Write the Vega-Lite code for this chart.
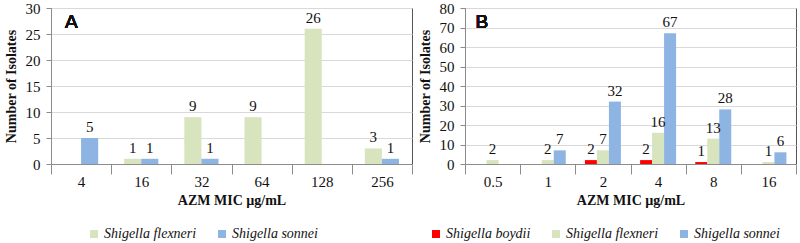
{
  "$schema": "https://vega.github.io/schema/vega-lite/v6.json",
  "padding": {"left": 3, "top": 0, "right": 0, "bottom": 0},
  "background": "white",
  "spacing": 4,
  "config": {
    "font": "Liberation Serif, Times New Roman, serif",
    "view": {"stroke": "#555", "strokeWidth": 1},
    "text": {"font": "Liberation Serif, Times New Roman, serif"},
    "axis": {
      "labelFont": "Liberation Serif, Times New Roman, serif",
      "labelFontSize": 15,
      "labelColor": "#111",
      "titleFont": "Liberation Serif, Times New Roman, serif",
      "titleFontSize": 14,
      "titleFontWeight": "bold",
      "titleColor": "#111",
      "domainColor": "#8c8c8c",
      "tickColor": "#8c8c8c",
      "gridColor": "#d9d9d9"
    },
    "legend": {
      "labelFont": "Liberation Serif, Times New Roman, serif",
      "labelFontSize": 14,
      "labelFontStyle": "italic",
      "labelColor": "#111",
      "symbolType": "square",
      "symbolSize": 64,
      "symbolStrokeWidth": 0,
      "labelOffset": 3,
      "columnPadding": 18,
      "direction": "horizontal",
      "orient": "none"
    }
  },
  "resolve": {"scale": {"color": "independent", "y": "independent", "x": "independent", "xOffset": "independent"}},
  "hconcat": [
    {
      "width": 361,
      "height": 156,
      "data": {"values": [
        {"mic": "4", "species": "Shigella flexneri", "count": 0},
        {"mic": "4", "species": "Shigella sonnei", "count": 5},
        {"mic": "16", "species": "Shigella flexneri", "count": 1},
        {"mic": "16", "species": "Shigella sonnei", "count": 1},
        {"mic": "32", "species": "Shigella flexneri", "count": 9},
        {"mic": "32", "species": "Shigella sonnei", "count": 1},
        {"mic": "64", "species": "Shigella flexneri", "count": 9},
        {"mic": "64", "species": "Shigella sonnei", "count": 0},
        {"mic": "128", "species": "Shigella flexneri", "count": 26},
        {"mic": "128", "species": "Shigella sonnei", "count": 0},
        {"mic": "256", "species": "Shigella flexneri", "count": 3},
        {"mic": "256", "species": "Shigella sonnei", "count": 1}
      ]},
      "layer": [
        {
          "mark": {"type": "bar"},
          "encoding": {
            "x": {"field": "mic", "type": "ordinal",
                  "scale": {"domain": ["4", "16", "32", "64", "128", "256"], "paddingInner": 0, "paddingOuter": 0},
                  "axis": {"title": "AZM MIC µg/mL", "labelAngle": 0, "tickBand": "extent", "tickSize": 10, "labelPadding": 0, "titlePadding": 4}},
            "xOffset": {"field": "species", "type": "nominal", "scale": {"paddingInner": 0, "paddingOuter": 0.76}},
            "y": {"field": "count", "type": "quantitative",
                  "scale": {"domain": [0, 30], "nice": false},
                  "axis": {"title": "Number of Isolates", "values": [0, 5, 10, 15, 20, 25, 30], "labelOverlap": false, "grid": true, "tickSize": 5, "labelPadding": 6, "titlePadding": 7}},
            "color": {"field": "species", "type": "nominal",
                      "scale": {"domain": ["Shigella flexneri", "Shigella sonnei"], "range": ["#d7e4bd", "#8db4e2"]},
                      "legend": {"title": null, "legendX": 36, "legendY": 219}}
          }
        },
        {
          "transform": [{"filter": "datum.count > 0"}],
          "mark": {"type": "text", "baseline": "bottom", "dy": -3, "fontSize": 15, "color": "#111"},
          "encoding": {
            "x": {"field": "mic", "type": "ordinal"},
            "xOffset": {"field": "species", "type": "nominal"},
            "y": {"field": "count", "type": "quantitative",
                  "axis": {"title": "Number of Isolates", "values": [0, 5, 10, 15, 20, 25, 30], "labelOverlap": false, "grid": true, "tickSize": 5, "labelPadding": 6, "titlePadding": 7}},
            "text": {"field": "count", "type": "quantitative"}
          }
        },
        {
          "mark": {"type": "text", "text": "A", "align": "left", "baseline": "top", "dx": -16, "dy": 5, "fontSize": 19, "fontWeight": "normal", "font": "Liberation Sans, Arial, sans-serif", "color": "#111"},
          "encoding": {
            "x": {"datum": "4", "type": "ordinal"},
            "y": {"datum": 30, "type": "quantitative",
                  "axis": {"title": "Number of Isolates", "values": [0, 5, 10, 15, 20, 25, 30], "labelOverlap": false, "grid": true, "tickSize": 5, "labelPadding": 6, "titlePadding": 7}}
          }
        }
      ]
    },
    {
      "width": 331,
      "height": 156,
      "data": {"values": [
        {"mic": "0.5", "species": "Shigella boydii", "count": 0},
        {"mic": "0.5", "species": "Shigella flexneri", "count": 2},
        {"mic": "0.5", "species": "Shigella sonnei", "count": 0},
        {"mic": "1", "species": "Shigella boydii", "count": 0},
        {"mic": "1", "species": "Shigella flexneri", "count": 2},
        {"mic": "1", "species": "Shigella sonnei", "count": 7},
        {"mic": "2", "species": "Shigella boydii", "count": 2},
        {"mic": "2", "species": "Shigella flexneri", "count": 7},
        {"mic": "2", "species": "Shigella sonnei", "count": 32},
        {"mic": "4", "species": "Shigella boydii", "count": 2},
        {"mic": "4", "species": "Shigella flexneri", "count": 16},
        {"mic": "4", "species": "Shigella sonnei", "count": 67},
        {"mic": "8", "species": "Shigella boydii", "count": 1},
        {"mic": "8", "species": "Shigella flexneri", "count": 13},
        {"mic": "8", "species": "Shigella sonnei", "count": 28},
        {"mic": "16", "species": "Shigella boydii", "count": 0},
        {"mic": "16", "species": "Shigella flexneri", "count": 1},
        {"mic": "16", "species": "Shigella sonnei", "count": 6}
      ]},
      "layer": [
        {
          "mark": {"type": "bar"},
          "encoding": {
            "x": {"field": "mic", "type": "ordinal",
                  "scale": {"domain": ["0.5", "1", "2", "4", "8", "16"], "paddingInner": 0, "paddingOuter": 0},
                  "axis": {"title": "AZM MIC µg/mL", "labelAngle": 0, "tickBand": "extent", "tickSize": 10, "labelPadding": 0, "titlePadding": 4}},
            "xOffset": {"field": "species", "type": "nominal", "scale": {"paddingInner": 0, "paddingOuter": 0.8}},
            "y": {"field": "count", "type": "quantitative",
                  "scale": {"domain": [0, 80], "nice": false},
                  "axis": {"title": "Number of Isolates", "values": [0, 10, 20, 30, 40, 50, 60, 70, 80], "labelOverlap": false, "grid": true, "tickSize": 5, "labelPadding": 6, "titlePadding": 7}},
            "color": {"field": "species", "type": "nominal",
                      "scale": {"domain": ["Shigella boydii", "Shigella flexneri", "Shigella sonnei"], "range": ["#ff0000", "#d7e4bd", "#8db4e2"]},
                      "legend": {"title": null, "legendX": -36, "legendY": 219}}
          }
        },
        {
          "transform": [{"filter": "datum.count > 0"}],
          "mark": {"type": "text", "baseline": "bottom", "dy": -3, "fontSize": 15, "color": "#111"},
          "encoding": {
            "x": {"field": "mic", "type": "ordinal"},
            "xOffset": {"field": "species", "type": "nominal"},
            "y": {"field": "count", "type": "quantitative",
                  "axis": {"title": "Number of Isolates", "values": [0, 10, 20, 30, 40, 50, 60, 70, 80], "labelOverlap": false, "grid": true, "tickSize": 5, "labelPadding": 6, "titlePadding": 7}},
            "text": {"field": "count", "type": "quantitative"}
          }
        },
        {
          "mark": {"type": "text", "text": "B", "align": "left", "baseline": "top", "dx": -17, "dy": 5, "fontSize": 19, "fontWeight": "normal", "font": "Liberation Sans, Arial, sans-serif", "color": "#111"},
          "encoding": {
            "x": {"datum": "0.5", "type": "ordinal"},
            "y": {"datum": 80, "type": "quantitative",
                  "axis": {"title": "Number of Isolates", "values": [0, 10, 20, 30, 40, 50, 60, 70, 80], "labelOverlap": false, "grid": true, "tickSize": 5, "labelPadding": 6, "titlePadding": 7}}
          }
        }
      ]
    }
  ]
}
